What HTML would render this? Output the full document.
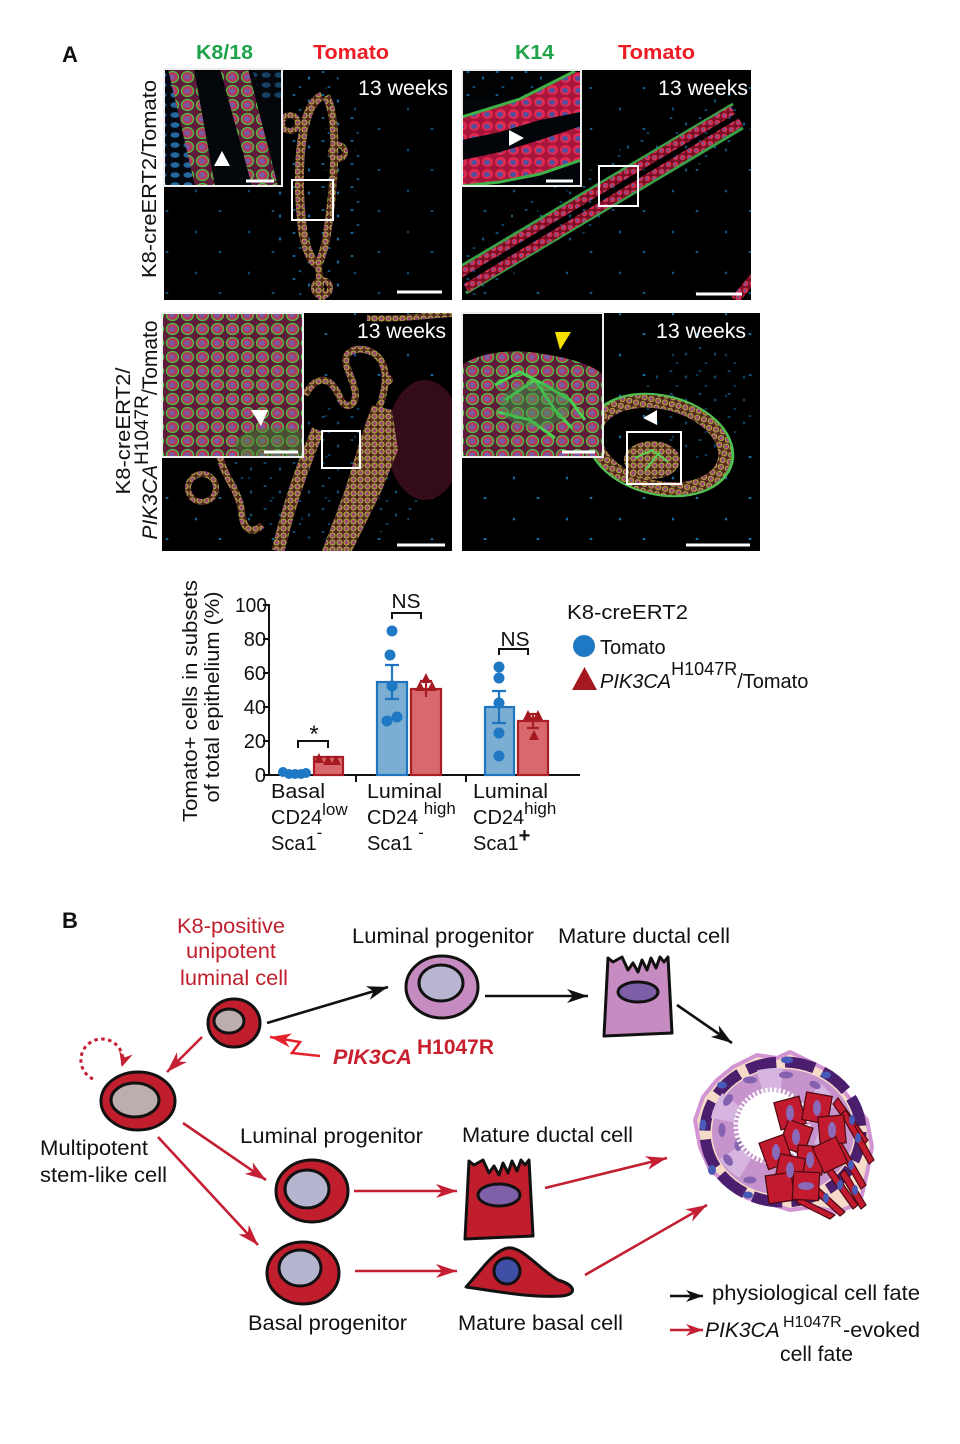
<!DOCTYPE html>
<html><head><meta charset="utf-8"><style>
html,body{margin:0;padding:0;background:#fff;}
svg{display:block;font-family:"Liberation Sans",Arial,sans-serif;}
</style></head><body>
<svg width="960" height="1444" viewBox="0 0 960 1444" xmlns="http://www.w3.org/2000/svg">
<defs>
 <pattern id="pc" width="7" height="7" patternUnits="userSpaceOnUse">
  <rect width="7" height="7" fill="#5a2424"/>
  <circle cx="3.5" cy="3.5" r="2.6" fill="#c03a4c" stroke="#9ccc44" stroke-width="0.9"/>
  <circle cx="3.5" cy="3.5" r="1.1" fill="#6a5aa0"/>
 </pattern>
 <pattern id="pr" width="7" height="7" patternUnits="userSpaceOnUse">
  <rect width="7" height="7" fill="#7a1028"/>
  <circle cx="3.5" cy="3.5" r="2.8" fill="#d8304c"/>
  <circle cx="3" cy="3.5" r="1.2" fill="#5a5aa8"/>
 </pattern>
 <pattern id="pci" width="15" height="14" patternUnits="userSpaceOnUse">
  <rect width="15" height="14" fill="#5e1c3a"/>
  <ellipse cx="7.5" cy="7" rx="6" ry="5.5" fill="#b8365a" stroke="#4cc040" stroke-width="1.3"/>
  <ellipse cx="7" cy="7" rx="3" ry="2.6" fill="#7a5aa0"/>
 </pattern>
 <pattern id="pri" width="13" height="12" patternUnits="userSpaceOnUse">
  <rect width="13" height="12" fill="#a8143a"/>
  <ellipse cx="6.5" cy="6" rx="5.5" ry="5" fill="#e02a50"/>
  <ellipse cx="6" cy="6.5" rx="3" ry="2.5" fill="#5050a0"/>
 </pattern>
 <pattern id="pbc" width="13" height="10" patternUnits="userSpaceOnUse">
  <rect width="13" height="10" fill="#050a10"/>
  <ellipse cx="6" cy="5" rx="4.5" ry="2.8" fill="#2a7cbc"/>
 </pattern>
 <pattern id="sp" width="29" height="23" patternUnits="userSpaceOnUse">
  <rect width="29" height="23" fill="#000"/>
  <ellipse cx="4" cy="3" rx="1.6" ry="1" fill="#1f86c8"/>
  <ellipse cx="19" cy="9" rx="1.2" ry="1.6" fill="#1f86c8"/>
  <ellipse cx="10" cy="18" rx="1.5" ry="1" fill="#1a70b0"/>
 </pattern>
 <pattern id="sp2" width="53" height="41" patternUnits="userSpaceOnUse">
  <rect width="53" height="41" fill="#000"/>
  <ellipse cx="8" cy="6" rx="1.5" ry="1" fill="#1f86c8"/>
  <ellipse cx="37" cy="27" rx="1.2" ry="1.5" fill="#1a70b0"/>
 </pattern>
 <clipPath id="c1"><rect x="164" y="70" width="288" height="230"/></clipPath>
 <clipPath id="c1i"><rect x="164" y="69" width="118" height="117"/></clipPath>
 <clipPath id="c2"><rect x="462" y="70" width="289" height="230"/></clipPath>
 <clipPath id="c2i"><rect x="462" y="70" width="119" height="116"/></clipPath>
 <clipPath id="c3"><rect x="162" y="313" width="290" height="238"/></clipPath>
 <clipPath id="c3i"><rect x="162" y="313" width="141" height="144"/></clipPath>
 <clipPath id="c4"><rect x="462" y="313" width="298" height="238"/></clipPath>
 <clipPath id="c4i"><rect x="462" y="313" width="141" height="144"/></clipPath>
 <marker id="ab" markerWidth="22" markerHeight="16" refX="21" refY="8" orient="auto" markerUnits="userSpaceOnUse"><path d="M0,1 L21,8 L0,15 L6,8 Z" fill="#111"/></marker>
 <marker id="ar" markerWidth="22" markerHeight="16" refX="21" refY="8" orient="auto" markerUnits="userSpaceOnUse"><path d="M0,1 L21,8 L0,15 L6,8 Z" fill="#c41f33"/></marker>
 <marker id="arl" markerWidth="22" markerHeight="16" refX="21" refY="8" orient="auto" markerUnits="userSpaceOnUse"><path d="M0,1 L21,8 L0,15 L6,8 Z" fill="#e5222c"/></marker>
 <marker id="abs" markerWidth="18" markerHeight="14" refX="17" refY="7" orient="auto" markerUnits="userSpaceOnUse"><path d="M0,1 L17,7 L0,13 L5,7 Z" fill="#111"/></marker>
 <marker id="ars" markerWidth="18" markerHeight="14" refX="17" refY="7" orient="auto" markerUnits="userSpaceOnUse"><path d="M0,1 L17,7 L0,13 L5,7 Z" fill="#c41f33"/></marker>
 <marker id="ard" markerWidth="16" markerHeight="16" refX="14" refY="8" orient="auto" markerUnits="userSpaceOnUse"><path d="M0,1 L15,8 L0,15 L5,8 Z" fill="#c41f33"/></marker>
</defs>

<!-- ============ PANEL A ============ -->
<text x="62" y="62" font-size="22" font-weight="bold" fill="#111">A</text>
<text x="196" y="59" font-size="20" font-weight="bold" fill="#1ea34a" textLength="57" lengthAdjust="spacingAndGlyphs">K8/18</text>
<text x="313" y="59" font-size="20" font-weight="bold" fill="#ed1c24" textLength="76" lengthAdjust="spacingAndGlyphs">Tomato</text>
<text x="515" y="59" font-size="20" font-weight="bold" fill="#1ea34a" textLength="39" lengthAdjust="spacingAndGlyphs">K14</text>
<text x="618" y="59" font-size="20" font-weight="bold" fill="#ed1c24" textLength="77" lengthAdjust="spacingAndGlyphs">Tomato</text>

<text transform="translate(156,179) rotate(-90)" text-anchor="middle" font-size="20" fill="#111" textLength="198" lengthAdjust="spacingAndGlyphs">K8-creERT2/Tomato</text>
<text transform="translate(130,431) rotate(-90)" text-anchor="middle" font-size="20" fill="#111" textLength="127" lengthAdjust="spacingAndGlyphs">K8-creERT2/</text>
<text transform="translate(157,430) rotate(-90)" text-anchor="middle" font-size="21" fill="#111"><tspan font-style="italic">PIK3CA</tspan><tspan dy="-9" font-size="19">H1047R</tspan><tspan dy="9">/Tomato</tspan></text>

<!-- Image 1 -->
<g clip-path="url(#c1)">
 <rect x="164" y="70" width="288" height="230" fill="#000"/>
 <rect x="164" y="70" width="288" height="230" fill="url(#sp2)" opacity="0.6"/>
 <ellipse cx="318" cy="185" rx="45" ry="120" fill="url(#sp)" opacity="0.75"/>
 <path d="M322,96 C300,105 296,170 302,225 C305,250 312,262 318,265" fill="none" stroke="url(#pc)" stroke-width="9"/>
 <path d="M326,96 C340,120 334,190 326,240 C322,258 318,265 318,265" fill="none" stroke="url(#pc)" stroke-width="8"/>
 <path d="M318,262 L322,300" fill="none" stroke="url(#pc)" stroke-width="7"/>
 <circle cx="290" cy="123" r="8" fill="none" stroke="url(#pc)" stroke-width="6"/>
 <circle cx="338" cy="152" r="7" fill="none" stroke="url(#pc)" stroke-width="6"/>
 <circle cx="322" cy="288" r="8" fill="none" stroke="url(#pc)" stroke-width="6"/>
 <rect x="292" y="180" width="41" height="40" fill="none" stroke="#fff" stroke-width="2"/>
 <line x1="397" y1="292" x2="442" y2="292" stroke="#fff" stroke-width="3"/>
 <text x="448" y="95" text-anchor="end" font-size="21" fill="#fff" textLength="90" lengthAdjust="spacingAndGlyphs">13 weeks</text>
</g>
<g clip-path="url(#c1i)">
 <rect x="164" y="69" width="118" height="117" fill="#03060a"/>
 <polygon points="164,69 170,69 197,186 164,186" fill="url(#pbc)" opacity="0.85"/>
 <polygon points="252,69 282,69 282,100 262,100" fill="url(#pbc)" opacity="0.5"/>
 <polygon points="168,69 194,69 215,186 195,186" fill="url(#pci)"/>
 <polygon points="220,69 248,69 278,186 252,186" fill="url(#pci)"/>
 <polygon points="214,166 230,166 222,151" fill="#fff"/>
 <line x1="246" y1="181" x2="274" y2="181" stroke="#fff" stroke-width="3"/>
</g>
<rect x="164" y="69" width="118" height="117" fill="none" stroke="#eee" stroke-width="2"/>

<!-- Image 2 -->
<g clip-path="url(#c2)">
 <rect x="462" y="70" width="289" height="230" fill="#000"/>
 <rect x="462" y="70" width="289" height="230" fill="url(#sp2)" opacity="0.7"/>
 <line x1="455" y1="278" x2="740" y2="108" stroke="url(#sp)" stroke-width="55" opacity="0.6"/>
 <line x1="456" y1="269" x2="733" y2="104" stroke="#3aa048" stroke-width="3"/>
 <line x1="466" y1="293" x2="743" y2="128" stroke="#3aa048" stroke-width="3"/>
 <line x1="459" y1="274" x2="733" y2="110" stroke="url(#pr)" stroke-width="9"/>
 <line x1="466" y1="288" x2="741" y2="122" stroke="url(#pr)" stroke-width="9"/>
 <path d="M735,300 L760,270" stroke="url(#pr)" stroke-width="9"/>
 <rect x="599" y="166" width="39" height="40" fill="none" stroke="#fff" stroke-width="2"/>
 <line x1="696" y1="294" x2="742" y2="294" stroke="#fff" stroke-width="3"/>
 <text x="748" y="95" text-anchor="end" font-size="21" fill="#fff" textLength="90" lengthAdjust="spacingAndGlyphs">13 weeks</text>
</g>
<g clip-path="url(#c2i)">
 <rect x="462" y="70" width="119" height="116" fill="#02050a"/>
 <rect x="462" y="70" width="80" height="28" fill="url(#sp)" opacity="0.7"/>
 <polygon points="462,118 520,100 575,72 581,72 581,112 540,120 500,132 462,140" fill="url(#pri)"/>
 <polyline points="462,117 520,99 575,71" fill="none" stroke="#40b048" stroke-width="3"/>
 <polygon points="462,160 500,152 540,140 581,126 581,160 540,174 500,182 462,186" fill="url(#pri)"/>
 <polyline points="462,186 500,182 540,174 581,160" fill="none" stroke="#40b048" stroke-width="3"/>
 <polygon points="509,130 509,146 524,138" fill="#fff"/>
 <line x1="546" y1="181" x2="573" y2="181" stroke="#fff" stroke-width="3"/>
</g>
<rect x="462" y="70" width="119" height="116" fill="none" stroke="#eee" stroke-width="2"/>

<!-- Image 3 -->
<g clip-path="url(#c3)">
 <rect x="162" y="313" width="290" height="238" fill="#000"/>
 <rect x="162" y="313" width="290" height="238" fill="url(#sp2)" opacity="0.8"/>
 <ellipse cx="330" cy="470" rx="110" ry="70" fill="url(#sp)" opacity="0.55"/>
 <ellipse cx="425" cy="440" rx="38" ry="60" fill="#3a0c1c" opacity="0.9"/>
 <path d="M367,318 C395,320 420,316 452,314" fill="none" stroke="url(#pc)" stroke-width="6"/>
 <path d="M305,395 C318,372 332,378 340,398 C346,412 358,405 355,390 C350,370 340,360 350,352 C362,345 378,352 383,365 C388,378 384,395 378,410" fill="none" stroke="url(#pc)" stroke-width="7"/>
 <circle cx="388" cy="380" r="5" fill="url(#pc)"/>
 <polygon points="372,405 392,410 398,450 382,490 352,551 322,551 345,490 360,440" fill="url(#pc)"/>
 <path d="M318,430 C305,460 290,500 278,551" fill="none" stroke="url(#pc)" stroke-width="13"/>
 <path d="M220,457 C225,480 240,490 242,515 C244,530 252,535 262,525" fill="none" stroke="url(#pc)" stroke-width="7"/>
 <circle cx="202" cy="488" r="14" fill="none" stroke="url(#pc)" stroke-width="6"/>
 <rect x="322" y="431" width="38" height="37" fill="none" stroke="#fff" stroke-width="2"/>
 <line x1="397" y1="545" x2="445" y2="545" stroke="#fff" stroke-width="3"/>
 <text x="446" y="338" text-anchor="end" font-size="21" fill="#fff" textLength="89" lengthAdjust="spacingAndGlyphs">13 weeks</text>
</g>
<g clip-path="url(#c3i)">
 <rect x="162" y="313" width="141" height="144" fill="url(#pci)"/>
 <ellipse cx="275" cy="445" rx="40" ry="18" fill="#3a8a30" opacity="0.45"/>
 <polygon points="251,410 268,410 261,426" fill="#fff"/>
 <line x1="264" y1="452" x2="298" y2="452" stroke="#fff" stroke-width="3"/>
</g>
<rect x="162" y="313" width="141" height="144" fill="none" stroke="#eee" stroke-width="2"/>

<!-- Image 4 -->
<g clip-path="url(#c4)">
 <rect x="462" y="313" width="298" height="238" fill="#000"/>
 <rect x="462" y="313" width="298" height="238" fill="url(#sp2)" opacity="0.9"/>
 <ellipse cx="700" cy="400" rx="55" ry="60" fill="url(#sp)" opacity="0.5"/>
 <g transform="rotate(14 660 445)">
  <ellipse cx="660" cy="445" rx="74" ry="49" fill="none" stroke="#50c050" stroke-width="3"/>
  <ellipse cx="660" cy="445" rx="66" ry="42" fill="none" stroke="url(#pc)" stroke-width="13"/>
 </g>
 <ellipse cx="652" cy="460" rx="28" ry="19" fill="url(#pc)"/>
 <path d="M635,458 L652,450 L668,462 M645,470 L660,452" stroke="#5ad058" stroke-width="2" fill="none"/>
 <polygon points="657,410 657,425 643,418" fill="#fff"/>
 <rect x="627" y="432" width="54" height="52" fill="none" stroke="#fff" stroke-width="2"/>
 <line x1="686" y1="545" x2="750" y2="545" stroke="#fff" stroke-width="3"/>
 <text x="746" y="338" text-anchor="end" font-size="21" fill="#fff" textLength="90" lengthAdjust="spacingAndGlyphs">13 weeks</text>
</g>
<g clip-path="url(#c4i)">
 <rect x="462" y="313" width="141" height="144" fill="#000"/>
 <path d="M462,365 C480,352 510,350 530,352 C560,356 590,362 603,375 L603,457 L462,457 Z" fill="url(#pci)"/>
 <path d="M495,385 L520,372 L545,385 L570,400 L585,420 M505,400 L535,380 L555,410 L572,428 M498,412 L530,420 L555,438" stroke="#4ad050" stroke-width="3" fill="none"/>
 <ellipse cx="535" cy="405" rx="35" ry="22" fill="#3aa048" opacity="0.45"/>
 <polygon points="555,332 571,332 560,350" fill="#f5e000"/>
 <line x1="562" y1="452" x2="595" y2="452" stroke="#fff" stroke-width="3"/>
</g>
<rect x="462" y="313" width="141" height="144" fill="none" stroke="#eee" stroke-width="2"/>

<!-- ============ CHART ============ -->
<text transform="translate(197,701) rotate(-90)" text-anchor="middle" font-size="20" fill="#111" textLength="242" lengthAdjust="spacingAndGlyphs">Tomato+ cells in subsets</text>
<text transform="translate(219,697) rotate(-90)" text-anchor="middle" font-size="20" fill="#111" textLength="211" lengthAdjust="spacingAndGlyphs">of total epithelium (%)</text>
<g font-size="20" fill="#111" text-anchor="end">
 <text x="267" y="612" textLength="32" lengthAdjust="spacingAndGlyphs">100</text>
 <text x="266" y="646">80</text>
 <text x="266" y="680">60</text>
 <text x="266" y="714">40</text>
 <text x="266" y="748">20</text>
 <text x="266" y="782">0</text>
</g>
<g stroke="#111" stroke-width="2" fill="none">
 <line x1="269" y1="604" x2="269" y2="776"/>
 <line x1="268" y1="775" x2="580" y2="775"/>
 <line x1="263" y1="605" x2="269" y2="605"/>
 <line x1="263" y1="639" x2="269" y2="639"/>
 <line x1="263" y1="673" x2="269" y2="673"/>
 <line x1="263" y1="707" x2="269" y2="707"/>
 <line x1="263" y1="741" x2="269" y2="741"/>
 <line x1="263" y1="775" x2="269" y2="775"/>
 <line x1="356" y1="775" x2="356" y2="782"/>
 <line x1="466" y1="775" x2="466" y2="782"/>
</g>
<g stroke-width="2.2">
 <rect x="281" y="772" width="26" height="3" fill="#7aaed2" stroke="#1f75bf"/>
 <rect x="314" y="757" width="29" height="18" fill="#d8686e" stroke="#a81e24"/>
 <rect x="377" y="682" width="30" height="93" fill="#7aaed2" stroke="#1f75bf"/>
 <rect x="411" y="689" width="30" height="86" fill="#d8686e" stroke="#a81e24"/>
 <rect x="485" y="707" width="29" height="68" fill="#7aaed2" stroke="#1f75bf"/>
 <rect x="518" y="721" width="30" height="54" fill="#d8686e" stroke="#a81e24"/>
</g>
<g stroke-width="2.2" fill="none">
 <path d="M392,665 L392,699 M385,665 L399,665 M385,699 L399,699" stroke="#1f75bf"/>
 <path d="M426,681 L426,697 M420,681 L432,681" stroke="#a81e24"/>
 <path d="M499,691 L499,723 M492,691 L506,691 M492,723 L506,723" stroke="#1f75bf"/>
 <path d="M533,714 L533,728 M527,714 L539,714 M527,728 L539,728" stroke="#a81e24"/>
</g>
<g fill="#1f78c4">
 <circle cx="283" cy="772" r="5"/><circle cx="289" cy="774" r="5"/><circle cx="295" cy="774" r="5"/><circle cx="301" cy="774" r="5"/><circle cx="306" cy="773" r="5"/>
 <circle cx="392" cy="631" r="5.5"/><circle cx="390" cy="655" r="5.5"/><circle cx="392" cy="686" r="5.5"/><circle cx="387" cy="721" r="5.5"/><circle cx="397" cy="717" r="5.5"/>
 <circle cx="499" cy="667" r="5.5"/><circle cx="499" cy="678" r="5.5"/><circle cx="499" cy="703" r="5.5"/><circle cx="499" cy="733" r="5.5"/><circle cx="499" cy="756" r="5.5"/>
</g>
<g fill="#a3191f">
 <polygon points="314,763 324,763 319,753"/><polygon points="323,765 333,765 328,755"/><polygon points="331,765 341,765 336,755"/>
 <polygon points="421,683 431,683 426,673"/><polygon points="415,691 425,691 420,681"/><polygon points="427,691 437,691 432,681"/>
 <polygon points="523,720 533,720 528,710"/><polygon points="533,720 543,720 538,710"/><polygon points="529,740 539,740 534,730"/>
</g>
<g stroke="#111" stroke-width="2" fill="none">
 <path d="M298,748 L298,741 L328,741 L328,748"/>
 <path d="M392,619 L392,613 L421,613 L421,619"/>
 <path d="M499,655 L499,649 L528,649 L528,655"/>
</g>
<text x="314" y="742" text-anchor="middle" font-size="24" fill="#111">*</text>
<text x="406" y="608" text-anchor="middle" font-size="20" fill="#111" textLength="29" lengthAdjust="spacingAndGlyphs">NS</text>
<text x="515" y="646" text-anchor="middle" font-size="20" fill="#111" textLength="29" lengthAdjust="spacingAndGlyphs">NS</text>
<g font-size="20" fill="#111">
 <text x="271" y="798" textLength="54" lengthAdjust="spacingAndGlyphs">Basal</text>
 <text x="271" y="824">CD24<tspan font-size="17" dy="-9">low</tspan></text>
 <text x="271" y="850">Sca1<tspan font-size="17" dy="-12">-</tspan></text>
 <text x="367" y="798" textLength="75" lengthAdjust="spacingAndGlyphs">Luminal</text>
 <text x="367" y="824">CD24 <tspan font-size="17" dy="-10">high</tspan></text>
 <text x="367" y="850">Sca1 <tspan font-size="17" dy="-12">-</tspan></text>
 <text x="473" y="798" textLength="75" lengthAdjust="spacingAndGlyphs">Luminal</text>
 <text x="473" y="824">CD24<tspan font-size="17" dy="-10">high</tspan></text>
 <text x="473" y="850">Sca1<tspan font-size="20" font-weight="bold" dy="-8">+</tspan></text>
</g>
<text x="567" y="619" font-size="20" fill="#111" textLength="121" lengthAdjust="spacingAndGlyphs">K8-creERT2</text>
<circle cx="584" cy="646" r="11" fill="#1f78c4"/>
<text x="600" y="654" font-size="20" fill="#111">Tomato</text>
<polygon points="572,690 597,690 584.5,667" fill="#a3191f"/>
<text x="600" y="688" font-size="20" fill="#111"><tspan font-style="italic">PIK3CA</tspan><tspan font-size="18" dy="-13">H1047R</tspan><tspan dy="13">/Tomato</tspan></text>

<!-- ============ PANEL B ============ -->
<text x="62" y="928" font-size="22" font-weight="bold" fill="#111">B</text>
<g font-size="21" fill="#c0202e" text-anchor="middle">
 <text x="231" y="933" textLength="108" lengthAdjust="spacingAndGlyphs">K8-positive</text>
 <text x="231" y="958" textLength="90" lengthAdjust="spacingAndGlyphs">unipotent</text>
 <text x="234" y="985" textLength="108" lengthAdjust="spacingAndGlyphs">luminal cell</text>
</g>
<g font-size="21" fill="#111">
 <text x="352" y="943" textLength="182" lengthAdjust="spacingAndGlyphs">Luminal progenitor</text>
 <text x="558" y="943" textLength="172" lengthAdjust="spacingAndGlyphs">Mature ductal cell</text>
 <text x="40" y="1155" textLength="108" lengthAdjust="spacingAndGlyphs">Multipotent</text>
 <text x="40" y="1182" textLength="127" lengthAdjust="spacingAndGlyphs">stem-like cell</text>
 <text x="240" y="1143" textLength="183" lengthAdjust="spacingAndGlyphs">Luminal progenitor</text>
 <text x="462" y="1142" textLength="171" lengthAdjust="spacingAndGlyphs">Mature ductal cell</text>
 <text x="248" y="1330" textLength="159" lengthAdjust="spacingAndGlyphs">Basal progenitor</text>
 <text x="458" y="1330" textLength="165" lengthAdjust="spacingAndGlyphs">Mature basal cell</text>
 <text x="712" y="1300" textLength="208" lengthAdjust="spacingAndGlyphs">physiological cell fate</text>
 <text x="705" y="1337" font-style="italic" font-size="21">PIK3CA</text>
 <text x="783" y="1327" font-size="16">H1047R</text>
 <text x="843" y="1337" textLength="77" lengthAdjust="spacingAndGlyphs">-evoked</text>
 <text x="780" y="1361" textLength="73" lengthAdjust="spacingAndGlyphs">cell fate</text>
</g>
<text x="333" y="1064" font-size="21" font-weight="bold" font-style="italic" fill="#c8202e" textLength="79" lengthAdjust="spacingAndGlyphs">PIK3CA</text>
<text x="417" y="1054" font-size="21" font-weight="bold" fill="#c8202e" textLength="77" lengthAdjust="spacingAndGlyphs">H1047R</text>

<g fill="none" stroke-width="2.6">
 <line x1="267" y1="1023" x2="388" y2="987" stroke="#111" marker-end="url(#ab)"/>
 <line x1="485" y1="996" x2="588" y2="996" stroke="#111" marker-end="url(#ab)"/>
 <line x1="677" y1="1005" x2="732" y2="1043" stroke="#111" marker-end="url(#ab)"/>
 <line x1="202" y1="1037" x2="167" y2="1072" stroke="#c41f33" marker-end="url(#ar)"/>
 <polyline points="320,1056 292,1053 300,1042 270,1037" stroke="#e5222c" stroke-linejoin="miter" marker-end="url(#arl)"/>
 <line x1="183" y1="1123" x2="266" y2="1180" stroke="#c41f33" marker-end="url(#ar)"/>
 <line x1="158" y1="1137" x2="258" y2="1245" stroke="#c41f33" marker-end="url(#ar)"/>
 <line x1="354" y1="1191" x2="457" y2="1191" stroke="#c41f33" marker-end="url(#ar)"/>
 <line x1="355" y1="1271" x2="457" y2="1271" stroke="#c41f33" marker-end="url(#ar)"/>
 <line x1="545" y1="1188" x2="667" y2="1158" stroke="#c41f33" marker-end="url(#ar)"/>
 <line x1="585" y1="1275" x2="707" y2="1205" stroke="#c41f33" marker-end="url(#ar)"/>
 <line x1="670" y1="1296" x2="703" y2="1296" stroke="#111" marker-end="url(#abs)"/>
 <line x1="670" y1="1330" x2="703" y2="1330" stroke="#c41f33" marker-end="url(#ars)"/>
 <path d="M93,1079 A21,21 0 1,1 122,1066" stroke="#c41f33" stroke-width="3" stroke-dasharray="3.5 3.5" marker-end="url(#ard)"/>
</g>

<g stroke="#111" stroke-width="3">
 <ellipse cx="234" cy="1023" rx="26" ry="24" fill="#c01e2d"/>
 <ellipse cx="229" cy="1021" rx="15" ry="12" fill="#bcaeae"/>
 <ellipse cx="138" cy="1101" rx="37" ry="29" fill="#c01e2d"/>
 <ellipse cx="135" cy="1100" rx="24" ry="17" fill="#bcaeae"/>
 <ellipse cx="442" cy="987" rx="36" ry="31" fill="#c68bc0"/>
 <ellipse cx="441" cy="983" rx="22" ry="18" fill="#b7b5cf"/>
 <path d="M608,958 L613,962 L622,957 L628,970 L633,963 L638,972 L642,960 L647,970 L651,958 L656,968 L660,957 L664,962 L668,957 L672,1033 L604,1036 Z" fill="#c68bc0" stroke-linejoin="round"/>
 <ellipse cx="638" cy="992" rx="20" ry="10" fill="#7d5ea8"/>
 <ellipse cx="312" cy="1191" rx="36" ry="31" fill="#c01e2d"/>
 <ellipse cx="307" cy="1189" rx="22" ry="19" fill="#b5b5d0"/>
 <ellipse cx="303" cy="1273" rx="36" ry="31" fill="#c01e2d"/>
 <ellipse cx="300" cy="1268" rx="21" ry="18" fill="#b5b5d0"/>
 <path d="M469,1161 L474,1165 L483,1160 L489,1173 L494,1166 L499,1175 L503,1163 L508,1173 L512,1161 L517,1171 L521,1160 L525,1165 L529,1160 L533,1236 L465,1239 Z" fill="#c01e2d" stroke-linejoin="round"/>
 <ellipse cx="499" cy="1195" rx="21" ry="11" fill="#7f5fa8"/>
 <path d="M466,1287 C480,1272 494,1250 508,1248 C522,1246 540,1270 558,1280 C575,1285 578,1294 562,1296 C530,1298 495,1291 466,1287 Z" fill="#c01e2d" stroke-linejoin="round"/>
 <circle cx="507" cy="1271" r="13" fill="#3f4fa5"/>
</g>

<g>
 <path d="M733,1067 L757,1055 L777,1058 L790,1052 L813,1063 L832,1073 L843,1090 L867,1120 L872,1147 L867,1173 L860,1203 L837,1212 L813,1207 L790,1210 L767,1203 L747,1198 L727,1183 L710,1170 L700,1147 L695,1120 L703,1097 L717,1080 Z" fill="#f6dcc8" stroke="#d294d2" stroke-width="4" stroke-linejoin="round"/>
 <ellipse cx="783" cy="1132" rx="78" ry="70" fill="none" stroke="#4b1f6e" stroke-width="11" stroke-dasharray="30 9"/>
 <ellipse cx="783" cy="1132" rx="71" ry="63" fill="#c793cc"/>
 <ellipse cx="776" cy="1128" rx="54" ry="48" fill="none" stroke="#d6b6e0" stroke-width="24" stroke-dasharray="22 34"/>
 <g fill="#8462b0">
  <ellipse cx="722" cy="1130" rx="3.5" ry="7"/><ellipse cx="728" cy="1100" rx="4" ry="6.5" transform="rotate(35 728 1100)"/>
  <ellipse cx="750" cy="1080" rx="7" ry="3.5"/><ellipse cx="786" cy="1075" rx="7" ry="3.5"/>
  <ellipse cx="815" cy="1085" rx="6" ry="3.5" transform="rotate(25 815 1085)"/>
  <ellipse cx="728" cy="1160" rx="4" ry="6.5" transform="rotate(-35 728 1160)"/>
  <ellipse cx="750" cy="1180" rx="6.5" ry="3.5"/><ellipse cx="738" cy="1145" rx="3.5" ry="6"/>
 </g>
 <g fill="#4a5ab8">
  <ellipse cx="722" cy="1085" rx="5" ry="3.5"/><ellipse cx="787" cy="1060" rx="6" ry="3.5"/>
  <ellipse cx="826" cy="1075" rx="5" ry="3.5"/><ellipse cx="703" cy="1125" rx="3.5" ry="5.5"/>
  <ellipse cx="712" cy="1170" rx="4" ry="5"/><ellipse cx="748" cy="1195" rx="5" ry="3.5"/>
 </g>
 <circle cx="772" cy="1126" r="34" fill="#fff"/>
 <circle cx="772" cy="1126" r="36" fill="none" stroke="#fff" stroke-width="5" stroke-dasharray="2.2 2.2"/>
 <g stroke="#4a0a12" stroke-width="1.2">
  <g fill="#c21a2e">
   <path d="M838,1098 L868,1140 L863,1146 L833,1104 Z"/><path d="M846,1110 L874,1160 L869,1164 L841,1114 Z"/>
   <path d="M840,1140 L866,1185 L861,1189 L835,1144 Z"/><path d="M826,1160 L858,1205 L853,1209 L821,1164 Z"/>
   <path d="M810,1180 L845,1212 L840,1216 L805,1184 Z"/><path d="M845,1170 L866,1205 L861,1209 L840,1174 Z"/>
   <path d="M800,1198 L835,1215 L830,1219 L796,1202 Z"/>
  </g>
  <g fill="#c21a2e">
   <rect x="-13" y="-14" width="26" height="28" transform="translate(790,1113) rotate(-15)"/>
   <rect x="-13" y="-14" width="26" height="28" transform="translate(817,1108) rotate(10)"/>
   <rect x="-13" y="-14" width="26" height="28" transform="translate(832,1130) rotate(-5)"/>
   <rect x="-13" y="-14" width="26" height="28" transform="translate(796,1137) rotate(20)"/>
   <rect x="-13" y="-14" width="26" height="28" transform="translate(776,1152) rotate(-20)"/>
   <rect x="-13" y="-14" width="26" height="28" transform="translate(810,1160) rotate(5)"/>
   <rect x="-13" y="-14" width="26" height="28" transform="translate(830,1155) rotate(-25)"/>
   <rect x="-13" y="-14" width="26" height="28" transform="translate(790,1170) rotate(12)"/>
   <rect x="-13" y="-14" width="26" height="28" transform="translate(780,1188) rotate(-8)"/>
   <rect x="-13" y="-14" width="26" height="28" transform="translate(806,1186) rotate(3)"/>
  </g>
 </g>
 <g fill="#8a6ab8">
  <ellipse cx="790" cy="1113" rx="4" ry="8"/><ellipse cx="817" cy="1108" rx="4" ry="8"/>
  <ellipse cx="832" cy="1130" rx="4" ry="8"/><ellipse cx="796" cy="1137" rx="4" ry="8"/>
  <ellipse cx="776" cy="1152" rx="4" ry="8"/><ellipse cx="810" cy="1160" rx="4" ry="8"/>
  <ellipse cx="790" cy="1170" rx="4" ry="8"/><ellipse cx="806" cy="1186" rx="8" ry="4"/>
 </g>
 <g fill="#4a5ab8">
  <ellipse cx="852" cy="1120" rx="3" ry="5"/><ellipse cx="858" cy="1138" rx="3" ry="5"/>
  <ellipse cx="851" cy="1165" rx="3" ry="5"/><ellipse cx="840" cy="1185" rx="3" ry="5"/>
  <ellipse cx="826" cy="1198" rx="3" ry="5"/><ellipse cx="855" cy="1190" rx="3" ry="5"/>
 </g>
</g>
</svg>
</body></html>
